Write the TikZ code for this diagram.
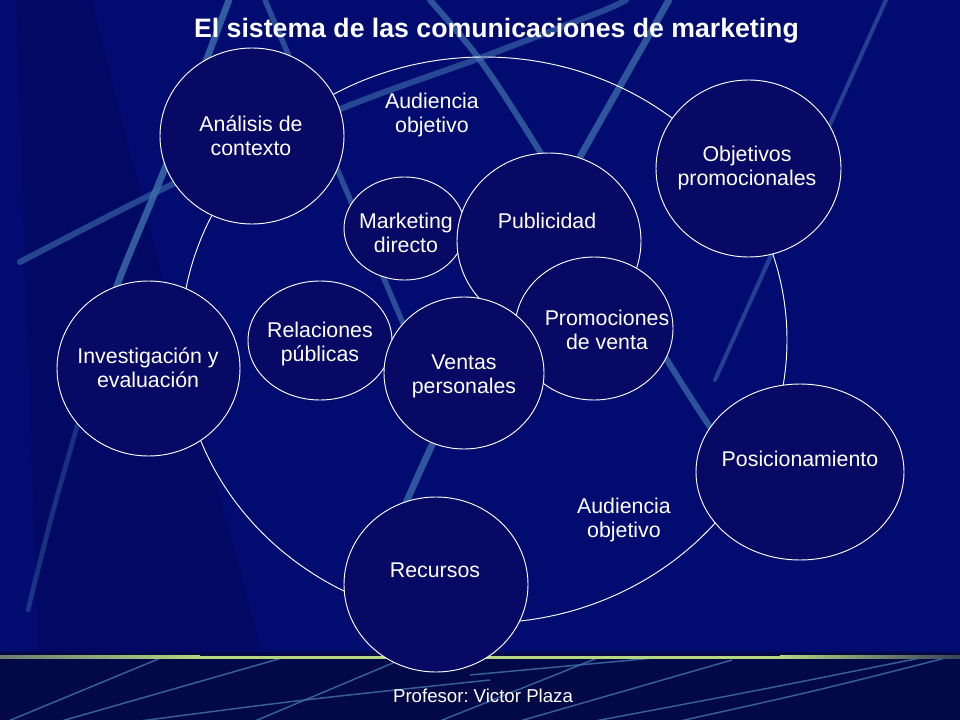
\documentclass[tikz,border=0pt]{standalone}
\usepackage{fontspec}
\setmainfont{Liberation Sans}[BoldFont={Liberation Sans Bold}]
\usetikzlibrary{shapes.geometric}
\definecolor{bgblue}{RGB}{2,12,112}
\definecolor{darkwedge}{RGB}{0,4,78}
\definecolor{circfill}{RGB}{8,9,100}
\definecolor{streak}{RGB}{62,112,172}
\definecolor{bandblue}{RGB}{3,8,70}
\definecolor{limeline}{RGB}{180,215,130}
\definecolor{grayline}{RGB}{110,125,110}
\begin{document}
\begin{tikzpicture}[x=0.75pt,y=-0.75pt,
  circ/.style={ellipse,draw=white,line width=0.7pt,fill=circfill,inner sep=0pt},
  bigring/.style={ellipse,draw=white,line width=0.7pt,inner sep=0pt},
  lbl/.style={text=white,font=\fontsize{16}{18}\selectfont,align=center,inner sep=0pt},
  streakline/.style={draw=streak,line cap=round},
  bandline/.style={draw=streak,line width=1.1pt,opacity=0.85}]

\useasboundingbox (0,0) rectangle (960,720);
\fill[bgblue] (0,0) rectangle (960,720);
\fill[darkwedge,opacity=0.35] (16,0) -- (92,0) -- (175,330) -- (262,652) -- (38,652) -- cycle;

% bottom band
\fill[bandblue] (0,652) rectangle (960,720);
\shade[left color=grayline, right color=limeline] (0,655.8) rectangle (200,658.6);
\fill[limeline] (200,655.8) rectangle (780,658.6);
\shade[left color=limeline, right color=grayline!50!bandblue] (780,655.8) rectangle (960,658.6);
\begin{scope}
\clip (0,659) rectangle (960,720);
\draw[bandline] (6,722) -- (180,650);
\draw[bandline] (58,722) -- (296,654);
\draw[bandline] (140,721) .. controls (300,700) .. (490,680);
\draw[bandline] (255,721) -- (400,660);
\draw[bandline] (440,721) -- (600,657);
\draw[bandline] (470,675) -- (665,657);
\draw[bandline] (520,721) -- (732,660);
\draw[bandline] (595,721) .. controls (760,690) .. (920,658);
\draw[bandline] (680,721) .. controls (820,690) .. (965,653);
\end{scope}

% upper streaks
\draw[streakline,line width=4.5pt,opacity=0.6] plot[smooth] coordinates {(20,262) (173,184) (343,108) (480,58) (600,12) (626,0)};
\draw[streakline,line width=5pt,opacity=0.8] plot[smooth] coordinates {(229,0) (167,163) (118,283) (95,360)};
\draw[streakline,line width=3.5pt,opacity=0.4] plot[smooth] coordinates {(95,360) (78,423) (52,515) (28,610)};
\draw[streakline,line width=4pt,opacity=0.65] (265,0) -- (405,328);
\draw[streakline,line width=5pt,opacity=0.75] plot[smooth] coordinates {(669,0) (580,157) (500,303) (433,443) (405,505)};
\draw[streakline,line width=4.5pt,opacity=0.7] plot[smooth] coordinates {(430,0) (480,60) (537,147) (667,360) (712,430)};
\draw[streakline,line width=3pt,opacity=0.55] (886,0) -- (715,380);

% big system ellipse
\node[bigring,minimum width=454.5pt,minimum height=424.5pt] (sys) at (484,340) {};

% circles
\node[circ,minimum width=138pt,minimum height=132pt] (ana) at (252,136) {};
\node[circ,minimum width=137.25pt,minimum height=131.25pt] (inv) at (148.5,368.5) {};
\node[circ,minimum width=108pt,minimum height=89.25pt] (rel) at (320,340.5) {};
\node[circ,minimum width=90.75pt,minimum height=77.25pt] (mkt) at (404.5,228.5) {};
\node[circ,minimum width=138pt,minimum height=132pt] (pub) at (549,241) {};
\node[circ,minimum width=118.5pt,minimum height=107.25pt] (pro) at (594,328.5) {};
\node[circ,minimum width=120pt,minimum height=114pt] (ven) at (464,373) {};
\node[circ,minimum width=138.75pt,minimum height=132.75pt] (obj) at (748.5,168.5) {};
\node[circ,minimum width=156pt,minimum height=132pt] (pos) at (800,472) {};
\node[circ,minimum width=138pt,minimum height=131.25pt] (rec) at (436,584.5) {};

% labels
\node[lbl] (tana) at (251,136) {Análisis de\\contexto};
\node[lbl] (tinv) at (148,368) {Investigación y\\evaluación};
\node[lbl] (trel) at (320,344) {Relaciones\\públicas};
\node[lbl] (tmkt) at (406,233) {Marketing\\directo};
\node[lbl] (tpub) at (547,221) {Publicidad};
\node[lbl] (tpro) at (607,330) {Promociones\\de venta};
\node[lbl] (tven) at (464,376) {Ventas\\personales};
\node[lbl] (tobj) at (747,168) {Objetivos\\promocionales};
\node[lbl] (tpos) at (800,458.5) {Posicionamiento};
\node[lbl] (trec) at (435,570.5) {Recursos};
\node[lbl] (taud1) at (432,115) {Audiencia\\objetivo};
\node[lbl] (taud2) at (624,520) {Audiencia\\objetivo};

\node[text=white,font=\fontsize{20}{24}\selectfont\bfseries,anchor=base,inner sep=0pt] (title) at (496.5,38) {El sistema de las comunicaciones de marketing};
\node[text=white,font=\fontsize{14}{16}\selectfont,anchor=base,inner sep=0pt] (prof) at (483,702) {Profesor:\hspace{-1.5pt} Victor Plaza};
\end{tikzpicture}
\end{document}
